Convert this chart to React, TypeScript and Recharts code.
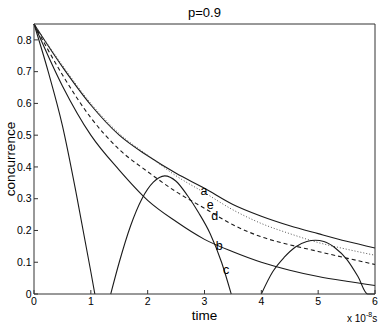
import React from 'react';
import { LineChart, Line, XAxis, YAxis, ReferenceDot } from 'recharts';

// time in units of 1e-8 s
const timeGrid = [0, 0.5, 1, 1.5, 2, 2.5, 3, 3.5, 4, 4.5, 5, 5.5, 6];
const curveA = [0.85, 0.715, 0.595, 0.5, 0.435, 0.38, 0.333, 0.282, 0.245, 0.215, 0.19, 0.166, 0.145];
const curveE = [0.85, 0.72, 0.6, 0.505, 0.437, 0.372, 0.319, 0.265, 0.222, 0.19, 0.162, 0.141, 0.122];
const curveD = [0.85, 0.69, 0.555, 0.455, 0.385, 0.322, 0.27, 0.218, 0.18, 0.155, 0.134, 0.113, 0.093];
const curveB = [0.85, 0.655, 0.5, 0.39, 0.295, 0.228, 0.172, 0.133, 0.1, 0.075, 0.055, 0.04, 0.027];

// curve c has its own sampling; null marks the stretches where it sits on zero
const curveCTime = [0, 0.25, 0.5, 0.75, 1.0, 1.07, 1.2, 1.35, 1.5, 1.7, 1.9, 2.1, 2.3, 2.5, 2.7, 2.9, 3.1, 3.3, 3.47, 3.7, 4.0, 4.2, 4.4, 4.6, 4.8, 4.95, 5.1, 5.3, 5.5, 5.7, 5.87, 6.0];
const curveCValue = [0.85, 0.7, 0.53, 0.31, 0.07, 0, null, 0, 0.1, 0.215, 0.3, 0.352, 0.372, 0.355, 0.31, 0.255, 0.19, 0.1, 0, null, 0, 0.07, 0.115, 0.148, 0.165, 0.169, 0.165, 0.145, 0.11, 0.055, 0, 0];

const xTicks = [0, 1, 2, 3, 4, 5, 6];
const yTicks = [0, 0.1, 0.2, 0.3, 0.4, 0.5, 0.6, 0.7, 0.8];

const curveLabels = [
  { name: 'a', t: 2.99, y: 0.327 },
  { name: 'e', t: 3.1, y: 0.28 },
  { name: 'd', t: 3.18, y: 0.246 },
  { name: 'b', t: 3.26, y: 0.154 },
  { name: 'c', t: 3.38, y: 0.076 },
];

const data = timeGrid.map((t, i) => ({ t, a: curveA[i], e: curveE[i], d: curveD[i], b: curveB[i] }));
const cData = curveCTime.map((t, i) => ({ t, c: curveCValue[i] }));

const axisColor = '#333';
const lineColor = '#1a1a1a';

export default function App() {
  return (
    <div style={{ width: 382, height: 326, fontFamily: '"Liberation Sans", Arial, sans-serif' }}>
      <style>{'body{margin:0}'}</style>
      <LineChart width={382} height={326} data={data} margin={{ top: 0, right: 0, bottom: 0, left: 0 }}>
        <XAxis xAxisId="bottom" dataKey="t" type="number" domain={[0, 6]} ticks={xTicks} interval={0}
          orientation="bottom" height={32} tickSize={-4} tickMargin={8} stroke={axisColor}
          tick={{ fill: '#000', fontSize: 10.5 }} />
        <XAxis xAxisId="top" dataKey="t" type="number" domain={[0, 6]} ticks={xTicks} interval={0}
          orientation="top" height={24} tickSize={-4} tick={false} stroke={axisColor} />
        <YAxis yAxisId="left" type="number" domain={[0, 0.85]} ticks={yTicks} interval={0}
          width={34} tickSize={-4} tickMargin={6.5} stroke={axisColor}
          tick={{ fill: '#000', fontSize: 10.5 }} />
        <YAxis yAxisId="right" orientation="right" type="number" domain={[0, 0.85]} ticks={yTicks} interval={0}
          width={7} tickSize={-4} tick={false} stroke={axisColor} />

        <Line xAxisId="bottom" yAxisId="left" type="monotone" dataKey="a" stroke={lineColor} strokeWidth={1.1}
          dot={false} activeDot={false} isAnimationActive={false} />
        <Line xAxisId="bottom" yAxisId="left" type="monotone" dataKey="e" stroke="#555" strokeWidth={1}
          strokeDasharray="1 2" dot={false} activeDot={false} isAnimationActive={false} />
        <Line xAxisId="bottom" yAxisId="left" type="monotone" dataKey="d" stroke={lineColor} strokeWidth={1.1}
          strokeDasharray="4 3" dot={false} activeDot={false} isAnimationActive={false} />
        <Line xAxisId="bottom" yAxisId="left" type="monotone" dataKey="b" stroke={lineColor} strokeWidth={1.1}
          dot={false} activeDot={false} isAnimationActive={false} />
        <Line xAxisId="bottom" yAxisId="left" data={cData} type="monotone" dataKey="c" stroke={lineColor}
          strokeWidth={1.1} dot={false} activeDot={false} isAnimationActive={false} />

        {curveLabels.map(l => (
          <ReferenceDot key={l.name} xAxisId="bottom" yAxisId="left" x={l.t} y={l.y} r={1}
            fill="none" stroke="none"
            label={{ value: l.name, position: 'center', fill: '#000', fontSize: 12.5 }} />
        ))}

        <text x={204.5} y={17} textAnchor="middle" fontSize={13} fill="#000">p=0.9</text>
        <text x={204.5} y={320} textAnchor="middle" fontSize={13.5} fill="#000">time</text>
        <text x={15} y={159} transform="rotate(-90 15 159)" textAnchor="middle" fontSize={13.5} fill="#000">concurrence</text>
        <text x={347} y={322} fontSize={10} fill="#000">
          x 10<tspan dy={-5} fontSize={7}>-8</tspan><tspan dy={5} fontSize={10}>s</tspan>
        </text>
      </LineChart>
    </div>
  );
}
